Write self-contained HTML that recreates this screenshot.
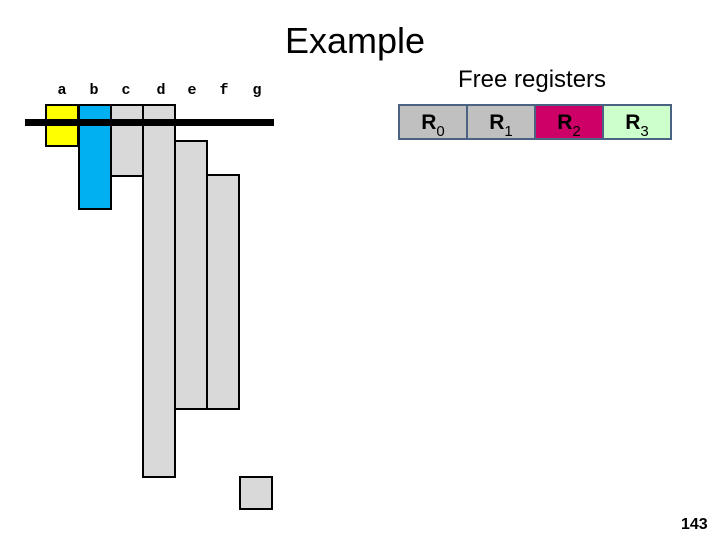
<!DOCTYPE html>
<html><head><style>
body{margin:0;width:720px;height:540px;background:#fff;position:relative;overflow:hidden;font-family:"Liberation Sans",sans-serif}
.t{position:absolute;white-space:nowrap}
.b{position:absolute;border:2px solid #000;box-sizing:border-box}
.l{position:absolute;top:82px;font:bold 15px "Liberation Mono",monospace;width:32px;text-align:center}
.r{position:absolute;top:106px;height:32px;width:66px;font-weight:bold;font-size:21px;text-align:center;line-height:34px}
.r sub{font-weight:normal;font-size:15px;vertical-align:-7px}
</style></head><body>
<div class="t" style="left:285px;top:20px;font-size:36px">Example</div>
<div class="t" style="left:458px;top:66px;font-size:24px">Free registers</div>
<div class="l" style="left:46px">a</div><div class="l" style="left:78px">b</div><div class="l" style="left:110px">c</div><div class="l" style="left:145px">d</div><div class="l" style="left:176px">e</div><div class="l" style="left:208px">f</div><div class="l" style="left:241px">g</div>
<div class="b" style="left:45px;top:104px;width:34px;height:43px;background:#ffff00"></div>
<div class="b" style="left:78px;top:104px;width:34px;height:106px;background:#00b0f0"></div>
<div class="b" style="left:110px;top:104px;width:34px;height:73px;background:#d9d9d9"></div>
<div class="b" style="left:142px;top:104px;width:34px;height:374px;background:#d9d9d9"></div>
<div class="b" style="left:174px;top:140px;width:34px;height:270px;background:#d9d9d9"></div>
<div class="b" style="left:206px;top:174px;width:34px;height:236px;background:#d9d9d9"></div>
<div class="b" style="left:239px;top:476px;width:34px;height:34px;background:#d9d9d9"></div>
<div style="position:absolute;left:25px;top:119px;width:249px;height:7px;background:#000"></div>
<div style="position:absolute;left:398px;top:104px;width:274px;height:36px;background:#4a6383"></div>
<div class="r" style="left:400px;background:#c0c0c0">R<sub>0</sub></div>
<div class="r" style="left:468px;background:#c0c0c0">R<sub>1</sub></div>
<div class="r" style="left:536px;background:#cc0066">R<sub>2</sub></div>
<div class="r" style="left:604px;background:#ccffcc">R<sub>3</sub></div>
<div class="t" style="left:681px;top:516px;font-size:16px;font-weight:bold">143</div>
</body></html>
